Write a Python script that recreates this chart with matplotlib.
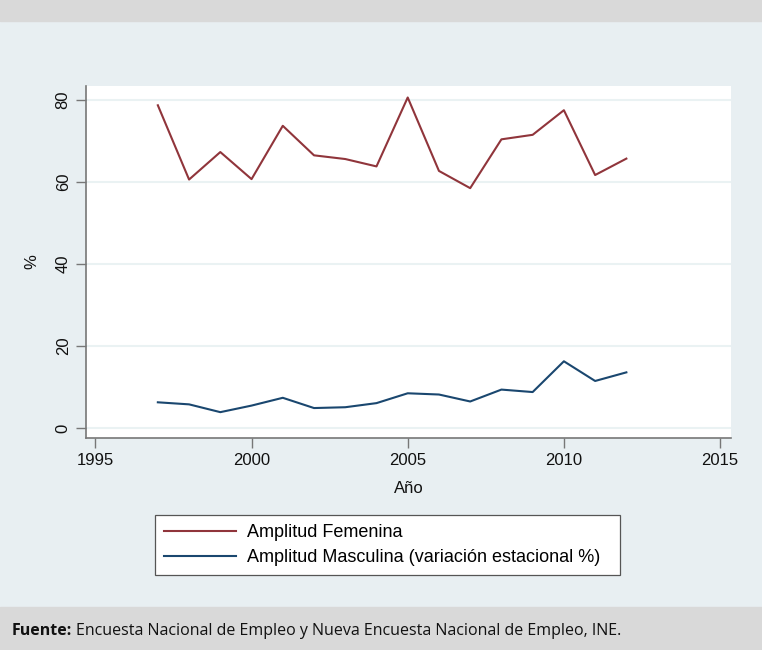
import matplotlib
matplotlib.use("Agg")
import matplotlib.pyplot as plt
from matplotlib.patches import Rectangle

years = [1997, 1998, 1999, 2000, 2001, 2002, 2003, 2004,
         2005, 2006, 2007, 2008, 2009, 2010, 2011, 2012]
femenina = [78.7, 60.6, 67.3, 60.7, 73.7, 66.5, 65.6, 63.8,
            80.6, 62.7, 58.5, 70.4, 71.5, 77.5, 61.7, 65.7]
masculina = [6.3, 5.8, 3.9, 5.5, 7.4, 4.9, 5.1, 6.1,
             8.5, 8.2, 6.5, 9.4, 8.8, 16.3, 11.5, 13.6]
x_ticks = [1995, 2000, 2005, 2010, 2015]
y_ticks = [0, 20, 40, 60, 80]
labels = ["Amplitud Femenina", "Amplitud Masculina (variación estacional %)"]

W, H = 762, 650
bg = "#e8eff2"
band = "#d9d9d9"
red = "#90353b"
blue = "#1a476f"

plt.rcParams["font.family"] = ["Liberation Sans", "DejaVu Sans"]

fig = plt.figure(figsize=(W / 100, H / 100), dpi=100, facecolor=bg)

# header and footer bands
fig.patches.append(Rectangle((0, 1 - 21 / H), 1, 21 / H, transform=fig.transFigure,
                             color=band, zorder=0))
fig.patches.append(Rectangle((0, 0), 1, 43 / H, transform=fig.transFigure,
                             color=band, zorder=0))

ax = fig.add_axes([86 / W, 1 - 438 / H, (731 - 86) / W, (438 - 86) / H])
ax.set_facecolor("white")
ax.plot(years, femenina, color=red, lw=1.5, label=labels[0])
ax.plot(years, masculina, color=blue, lw=1.5, label=labels[1])

ax.set_xlim(1994.7, 2015.35)
ax.set_ylim(-2.4, 83.4)
ax.set_xticks(x_ticks)
ax.set_yticks(y_ticks)
ax.set_yticklabels([str(v) for v in y_ticks], rotation=90, va="center")
ax.grid(axis="y", color="#eaf2f3", lw=1.5)
ax.set_axisbelow(True)
for s in ["top", "right"]:
    ax.spines[s].set_visible(False)
for s in ["left", "bottom"]:
    ax.spines[s].set_color("#777777")
    ax.spines[s].set_linewidth(1.2)
ax.tick_params(axis="both", length=7, width=1, color="#777777",
               labelsize=12, labelcolor="#111111", pad=4)
ax.set_xlabel("Año", fontsize=12, labelpad=9, color="#111111")
ax.set_ylabel("%", fontsize=12, labelpad=12, color="#111111")

leg = fig.legend(loc="upper left",
                 bbox_to_anchor=(155 / W, 1 - 577 / H, (620 - 155) / W, (577 - 515) / H),
                 mode="expand", fontsize=13, handlelength=4.0, handletextpad=0.6,
                 frameon=True, fancybox=False, edgecolor="#555555", framealpha=1,
                 borderaxespad=0, labelspacing=0.45, borderpad=0.5)
leg.get_frame().set_linewidth(0.9)

# footer: bold "Fuente:" then the rest right after it
t1 = fig.text(12 / W, 1 - 631 / H, "Fuente:", fontsize=11.5, fontweight="bold",
              family="Open Sans", va="center", color="#111111")
fig.canvas.draw()
bb = t1.get_window_extent(renderer=fig.canvas.get_renderer())
fig.text((bb.x1 + 4) / W, 1 - 631 / H,
         "Encuesta Nacional de Empleo y Nueva Encuesta Nacional de Empleo, INE.",
         fontsize=11.5, family="Open Sans", va="center", color="#111111")

fig.savefig("out.png", dpi=100, facecolor=bg)
